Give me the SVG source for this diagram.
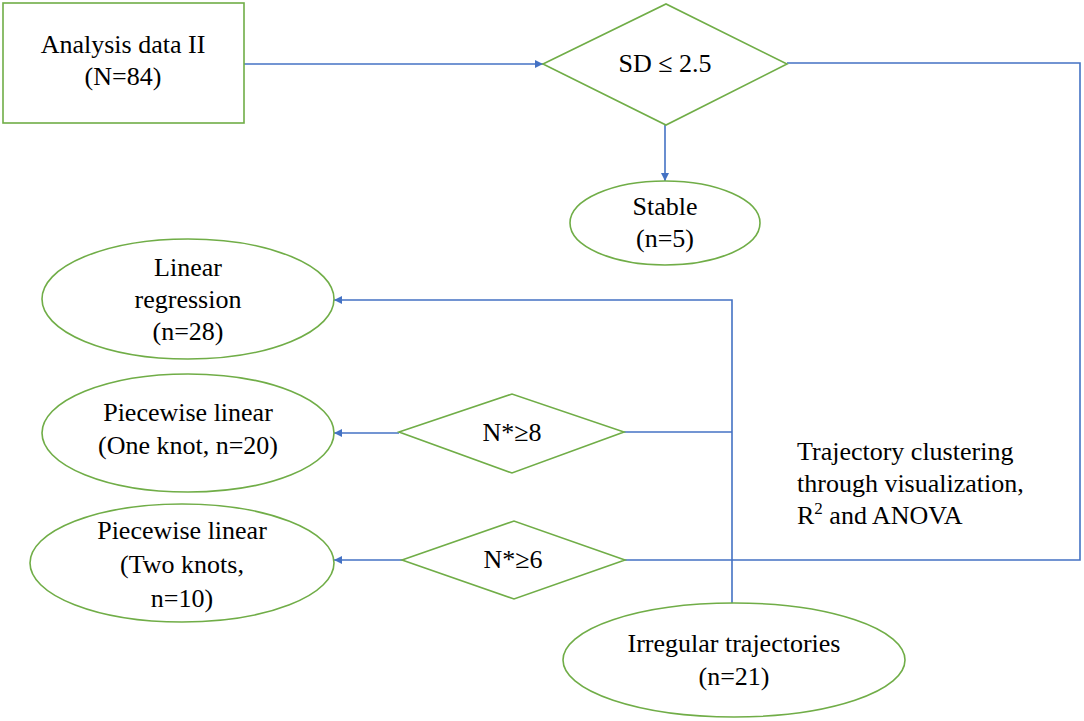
<svg xmlns="http://www.w3.org/2000/svg" width="1084" height="721" viewBox="0 0 1084 721">
<style>
.shape{fill:#ffffff;stroke:#70AD47;stroke-width:1.6}
.conn{fill:none;stroke:#4472C4;stroke-width:1.6}
.t{font-family:'Liberation Serif','DejaVu Serif',serif;font-size:26px;fill:#000000;text-anchor:middle}
.l{text-anchor:start}
</style>
<defs>
<marker id="arr" viewBox="0 0 10 10" refX="10" refY="5" markerWidth="10" markerHeight="8" markerUnits="userSpaceOnUse" orient="auto">
<path d="M0,0 L10,5 L0,10 Z" fill="#4472C4"/>
</marker>
</defs>
<rect width="1084" height="721" fill="#ffffff"/>
<g id="connectors">
<line class="conn" x1="244" y1="64" x2="543" y2="64" marker-end="url(#arr)"/>
<line class="conn" x1="665" y1="125" x2="665" y2="181" marker-end="url(#arr)"/>
<polyline class="conn" points="787,63 1080,63 1080,560 625,560"/>
<polyline class="conn" points="732,603 732,300 334,300" marker-end="url(#arr)"/>
<line class="conn" x1="624" y1="432" x2="732" y2="432"/>
<line class="conn" x1="399" y1="433" x2="334" y2="433" marker-end="url(#arr)"/>
<line class="conn" x1="402" y1="560" x2="334" y2="560" marker-end="url(#arr)"/>
</g>
<g font-family="Liberation Serif, DejaVu Serif, serif">
<g id="analysis">
<rect class="shape" x="3" y="3" width="241" height="120"/>
<text class="t" x="123" y="53">Analysis data II</text>
<text class="t" x="123" y="85">(N=84)</text>
</g>
<g id="sd">
<polygon class="shape" points="543,64 666,4 787,64 666,125"/>
<text class="t" x="665" y="72">SD ≤ 2.5</text>
</g>
<g id="stable">
<ellipse class="shape" cx="665" cy="223" rx="95" ry="42"/>
<text class="t" x="665" y="215">Stable</text>
<text class="t" x="665" y="247">(n=5)</text>
</g>
<g id="linear">
<ellipse class="shape" cx="188" cy="299" rx="146" ry="60"/>
<text class="t" x="188" y="276">Linear</text>
<text class="t" x="188" y="308">regression</text>
<text class="t" x="188" y="340">(n=28)</text>
</g>
<g id="pw1">
<ellipse class="shape" cx="188" cy="433" rx="146" ry="59"/>
<text class="t" x="188" y="421">Piecewise linear</text>
<text class="t" x="188" y="454">(One knot, n=20)</text>
</g>
<g id="pw2">
<ellipse class="shape" cx="182" cy="563" rx="152" ry="59"/>
<text class="t" x="182" y="539">Piecewise linear</text>
<text class="t" x="182" y="573">(Two knots,</text>
<text class="t" x="182" y="607">n=10)</text>
</g>
<g id="n8">
<polygon class="shape" points="399,432 512,394 624,432 512,473"/>
<text class="t" x="512" y="441">N*≥8</text>
</g>
<g id="n6">
<polygon class="shape" points="402,560 514,521 625,560 514,599"/>
<text class="t" x="513" y="568">N*≥6</text>
</g>
<g id="irregular">
<ellipse class="shape" cx="734" cy="660" rx="171" ry="57"/>
<text class="t" x="734" y="652">Irregular trajectories</text>
<text class="t" x="734" y="685">(n=21)</text>
</g>
<g id="label">
<text class="t l" x="797" y="460">Trajectory clustering</text>
<text class="t l" x="797" y="492">through visualization,</text>
<text class="t l" x="797" y="524">R<tspan dy="-10" font-size="17">2</tspan><tspan dy="10"> and ANOVA</tspan></text>
</g>
</g>
</svg>
